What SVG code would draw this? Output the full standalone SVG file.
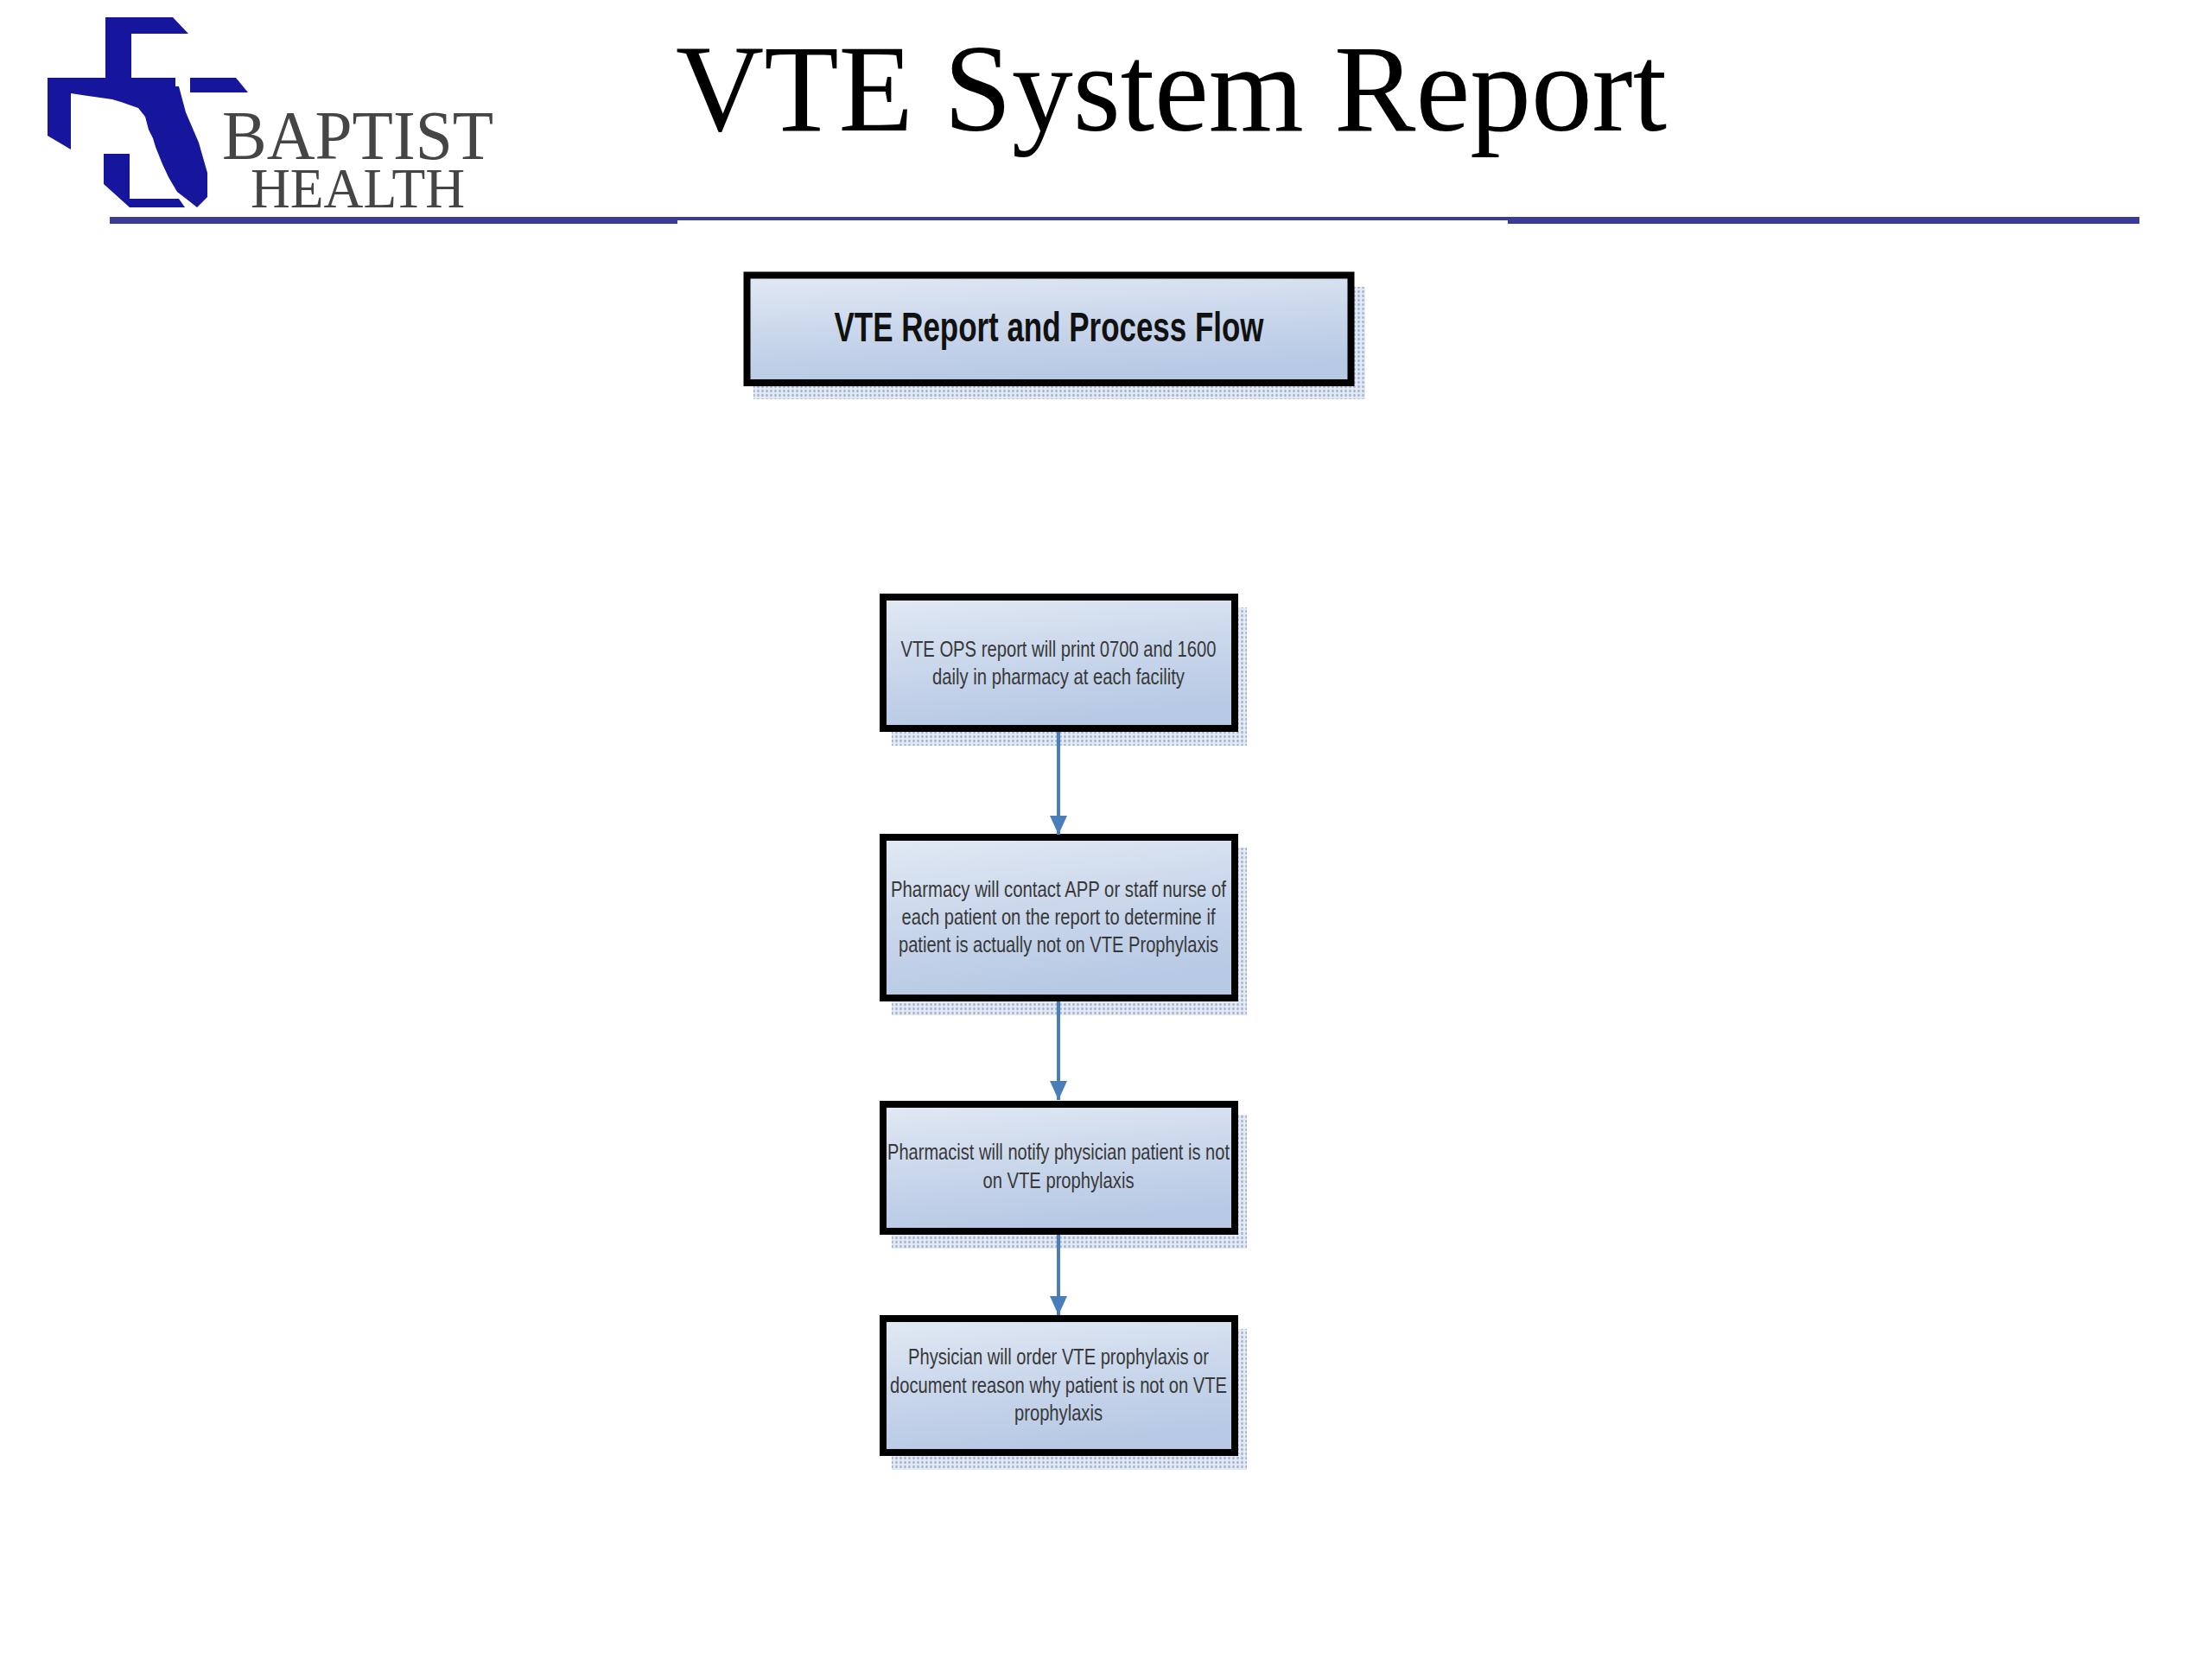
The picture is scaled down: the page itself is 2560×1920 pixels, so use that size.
<svg xmlns="http://www.w3.org/2000/svg" width="2560" height="1920" viewBox="0 0 2560 1920">
  <defs>
    <linearGradient id="boxFill" x1="0" y1="0" x2="0.25" y2="1">
      <stop offset="0" stop-color="#e2e9f4"/>
      <stop offset="0.5" stop-color="#cbd8ec"/>
      <stop offset="1" stop-color="#b7c9e4"/>
    </linearGradient>
    <pattern id="shadowDots" width="5" height="5" patternUnits="userSpaceOnUse">
      <rect width="5" height="5" fill="#e4eaf4"/>
      <ellipse cx="2.5" cy="2.5" rx="1.3" ry="1.8" fill="#a3b4d3"/>
    </pattern>
    <marker id="arrow" markerWidth="22" markerHeight="20" refX="22" refY="10" orient="auto" markerUnits="userSpaceOnUse">
      <path d="M0,0 L22,10 L0,20 Z" fill="#4a7ebb"/>
    </marker>
    <style>
      .box { fill: url(#boxFill); stroke: #000; stroke-width: 8; }
      .shadow { fill: url(#shadowDots); }
      .txt { font-family: "Liberation Sans", Arial, sans-serif; font-size: 25px; fill: #383838; text-anchor: middle; }
      .head { font-family: "Liberation Sans", Arial, sans-serif; font-size: 48px; font-weight: bold; fill: #111; text-anchor: middle; }
      .conn { stroke: #4a7ebb; stroke-width: 4; fill: none; marker-end: url(#arrow); }
      .logo { fill: #16169c; }
      .logotxt { font-family: "Liberation Serif", "Times New Roman", serif; fill: #454545; }
    </style>
  </defs>

  <rect width="2560" height="1920" fill="#ffffff"/>

  <!-- Logo -->
  <g id="logo">
    <polygon class="logo" points="122,20 200,20 218,39 152,39 152,90 203,90 203,100 207,100 215,130 230,165 240,200 240,228 228,240 218,232 205,222 195,205 188,190 180,170 177,160 172,150 168,135 160,125 140,118 130,115 95,110 82,108 82,173 55,157 55,90 122,90"/>
    <polygon class="logo" points="220,90 273,90 287,107 220,107"/>
    <polygon class="logo" points="120,178 150,178 150,230 207,230 214,240 150,240 120,213"/>
    <text class="logotxt" x="257" y="184" font-size="80" textLength="314" lengthAdjust="spacingAndGlyphs">BAPTIST</text>
    <text class="logotxt" x="290" y="240" font-size="66" textLength="248" lengthAdjust="spacingAndGlyphs">HEALTH</text>
  </g>

  <!-- Title -->
  <g id="title">
    <text x="782" y="151" font-family="'Liberation Serif', 'Times New Roman', serif" font-size="144" fill="#000" textLength="1147" lengthAdjust="spacingAndGlyphs">VTE System Report</text>
  </g>

  <!-- Header rule -->
  <g id="rule" fill="#3a3a98">
    <rect x="127" y="251" width="657" height="8"/>
    <rect x="784" y="251" width="961" height="4"/>
    <rect x="1745" y="251" width="731" height="8"/>
  </g>

  <!-- Header box -->
  <g id="header">
    <rect class="shadow" x="872" y="332" width="708" height="130"/>
    <rect class="box" x="864.5" y="318.5" width="699" height="124.5" stroke-width="9"/>
    <text class="head" x="1214" y="395" textLength="497" lengthAdjust="spacingAndGlyphs">VTE Report and Process Flow</text>
  </g>

  <!-- Node 1 -->
  <g id="node1">
    <rect class="shadow" x="1032" y="703" width="411" height="160"/>
    <rect class="box" x="1022" y="691" width="407" height="152"/>
    <text class="txt" x="1225" y="760" textLength="365" lengthAdjust="spacingAndGlyphs">VTE OPS report will print 0700 and 1600</text>
    <text class="txt" x="1225" y="792" textLength="292" lengthAdjust="spacingAndGlyphs">daily in pharmacy at each facility</text>
  </g>

  <!-- Node 2 -->
  <g id="node2">
    <rect class="shadow" x="1032" y="981" width="411" height="194"/>
    <rect class="box" x="1022" y="969" width="407" height="186"/>
    <text class="txt" x="1225" y="1038" textLength="388" lengthAdjust="spacingAndGlyphs">Pharmacy will contact APP or staff nurse of</text>
    <text class="txt" x="1225" y="1070" textLength="363" lengthAdjust="spacingAndGlyphs">each patient on the report to determine if</text>
    <text class="txt" x="1225" y="1102" textLength="370" lengthAdjust="spacingAndGlyphs">patient is actually not on VTE Prophylaxis</text>
  </g>

  <!-- Node 3 -->
  <g id="node3">
    <rect class="shadow" x="1032" y="1290" width="411" height="155"/>
    <rect class="box" x="1022" y="1278" width="407" height="147"/>
    <text class="txt" x="1225" y="1342" textLength="396" lengthAdjust="spacingAndGlyphs">Pharmacist will notify physician patient is not</text>
    <text class="txt" x="1225" y="1375" textLength="175" lengthAdjust="spacingAndGlyphs">on VTE prophylaxis</text>
  </g>

  <!-- Node 4 -->
  <g id="node4">
    <rect class="shadow" x="1032" y="1538" width="411" height="163"/>
    <rect class="box" x="1022" y="1526" width="407" height="155"/>
    <text class="txt" x="1225" y="1579" textLength="348" lengthAdjust="spacingAndGlyphs">Physician will order VTE prophylaxis or</text>
    <text class="txt" x="1225" y="1612" textLength="390" lengthAdjust="spacingAndGlyphs">document reason why patient is not on VTE</text>
    <text class="txt" x="1225" y="1644" textLength="102" lengthAdjust="spacingAndGlyphs">prophylaxis</text>
  </g>

  <!-- Connectors -->
  <g id="connectors">
    <line class="conn" x1="1225" y1="847" x2="1225" y2="966"/>
    <line class="conn" x1="1225" y1="1159" x2="1225" y2="1273"/>
    <line class="conn" x1="1225" y1="1429" x2="1225" y2="1522"/>
  </g>
</svg>
